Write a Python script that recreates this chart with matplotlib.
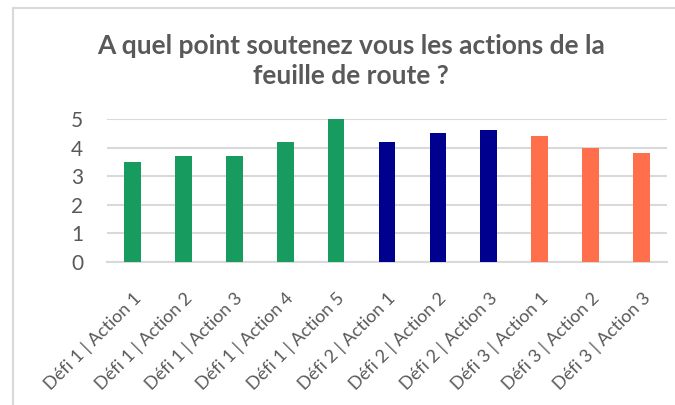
import matplotlib
matplotlib.use("Agg")
import matplotlib.pyplot as plt
from matplotlib.lines import Line2D

categories = ["Défi 1 | Action 1", "Défi 1 | Action 2", "Défi 1 | Action 3",
              "Défi 1 | Action 4", "Défi 1 | Action 5", "Défi 2 | Action 1",
              "Défi 2 | Action 2", "Défi 2 | Action 3", "Défi 3 | Action 1",
              "Défi 3 | Action 2", "Défi 3 | Action 3"]
values = [3.5, 3.7, 3.7, 4.2, 5.0, 4.2, 4.5, 4.6, 4.4, 4.0, 3.8]
groups = [1, 1, 1, 1, 1, 2, 2, 2, 3, 3, 3]
group_colors = {1: "#189B5F", 2: "#00008E", 3: "#FF6F4C"}
yticks = [0, 1, 2, 3, 4, 5]
title = "A quel point soutenez vous les actions de la\nfeuille de route ?"

plt.rcParams['font.family'] = ['Lato', 'DejaVu Sans']
fig = plt.figure(figsize=(6.75, 4.05), dpi=100)
ax = fig.add_axes([107/675, 1-262/405, (667-107)/675, (262-119)/405])

x = list(range(len(categories)))
ax.bar(x, values, width=0.33, color=[group_colors[g] for g in groups], zorder=3)
ax.set_xlim(-0.5, len(categories)-0.5)
ax.set_ylim(0, 5)
ax.set_yticks(yticks)
ax.set_yticklabels([str(v) for v in yticks], fontsize=15, color="#595959")
ax.yaxis.grid(True, color="#D9D9D9", linewidth=1.5, zorder=0)
ax.set_xticks(x)
ax.set_xticklabels(categories, rotation=45, ha="right", va="top",
                   rotation_mode="anchor", fontsize=13, color="#595959")
ax.tick_params(axis='y', which='major', length=0, pad=17)
ax.tick_params(axis='x', which='major', length=0, pad=20)
for s in ["top", "right", "left"]:
    ax.spines[s].set_visible(False)
ax.spines["bottom"].set_color("#D9D9D9")
ax.spines["bottom"].set_linewidth(1.5)

fig.text(351/675, 1-61/405, title, ha="center", va="center", fontsize=19,
         fontweight="bold", color="#595959", linespacing=1.32)

# chart frame (top and left edges)
fig.add_artist(Line2D([12.5/675, 12.5/675], [0, 1-7.5/405], transform=fig.transFigure,
                      color="#D9D9D9", linewidth=1.5))
fig.add_artist(Line2D([12.5/675, 1], [1-7.5/405, 1-7.5/405], transform=fig.transFigure,
                      color="#D9D9D9", linewidth=1.5))

fig.savefig("out.png", dpi=100)
